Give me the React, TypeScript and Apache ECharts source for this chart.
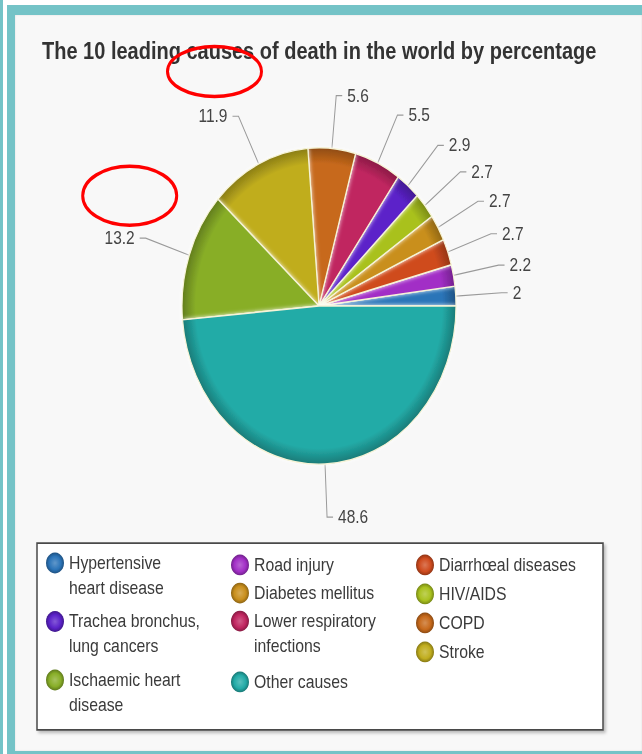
import React, { useEffect, useRef } from "react";
import * as echarts from "echarts";

// ---------- data ----------
const titleText = "The 10 leading causes of death in the world by percentage";
const categories = [
  "Hypertensive heart disease",
  "Road injury",
  "Diarrhœal diseases",
  "Diabetes mellitus",
  "HIV/AIDS",
  "Trachea bronchus, lung cancers",
  "Lower respiratory infections",
  "COPD",
  "Stroke",
  "Ischaemic heart disease",
  "Other causes",
];
const values = [2, 2.2, 2.7, 2.7, 2.7, 2.9, 5.5, 5.6, 11.9, 13.2, 48.6];
const colors = [
  "#2b74b8",
  "#a22fc6",
  "#cf4b1e",
  "#c98f1c",
  "#a9c11f",
  "#5b22c9",
  "#c02660",
  "#c7691b",
  "#c0ad1e",
  "#88ae28",
  "#23aba7",
];
// legend label wrapping (first line / second line)
const legendWrap: Record<string, string[]> = {
  "Hypertensive heart disease": ["Hypertensive", "heart disease"],
  "Trachea bronchus, lung cancers": ["Trachea bronchus,", "lung cancers"],
  "Ischaemic heart disease": ["Ischaemic heart", "disease"],
  "Lower respiratory infections": ["Lower respiratory", "infections"],
};
// legend columns (masonry order of the original legend)
const legendCol1 = ["Hypertensive heart disease", "Trachea bronchus, lung cancers", "Ischaemic heart disease"];
const legendCol2 = ["Road injury", "Diabetes mellitus", "Lower respiratory infections"];
const legendCol2b = ["Other causes"];
const legendCol3 = ["Diarrhœal diseases", "HIV/AIDS", "COPD", "Stroke"];

// ---------- styling helpers ----------
const W = 642;
const H_REAL = 754;
const H = 653; // native height, page is stretched vertically like the reference
const TEAL = "#74c3c7";
const FONT = "'Liberation Sans', Arial, Helvetica, sans-serif";
const PIE_C: [number, number] = [319, 265];
const PIE_R = 137;

function shade(hex: string, f: number): string {
  const n = parseInt(hex.slice(1), 16);
  let r = (n >> 16) & 255, g = (n >> 8) & 255, b = n & 255;
  if (f < 1) {
    r = Math.round(r * f); g = Math.round(g * f); b = Math.round(b * f);
  } else {
    const t = f - 1;
    r = Math.round(r + (255 - r) * t); g = Math.round(g + (255 - g) * t); b = Math.round(b + (255 - b) * t);
  }
  return "#" + ((1 << 24) | (r << 16) | (g << 8) | b).toString(16).slice(1);
}

function colorOf(name: string) {
  return colors[categories.indexOf(name)];
}

function legendItem(name: string) {
  const base = colorOf(name);
  return {
    name,
    itemStyle: {
      color: {
        type: "radial", x: 0.5, y: 0.5, r: 0.5,
        colorStops: [
          { offset: 0, color: shade(base, 1.25) },
          { offset: 0.65, color: base },
          { offset: 1, color: shade(base, 0.7) },
        ],
      },
      borderWidth: 0,
    },
  };
}

function makeLegend(names: string[], left: number, top: number, gap: number) {
  return {
    orient: "vertical",
    left,
    top,
    padding: 0,
    itemGap: gap,
    itemWidth: 18,
    itemHeight: 18,
    icon: "circle",
    selectedMode: false,
    data: names.map(legendItem),
    formatter: (n: string) => (legendWrap[n] ? legendWrap[n][0] : n),
    textStyle: { color: "#3a3a3a", fontSize: 15.8, fontFamily: FONT, lineHeight: 20 },
  };
}

const LINE2 = 21.6;
const col1Top = 477.6, col1Gap = 30.65;
const col2Top = 479.3, col2Gap = 4.3;
const col2bTop = 580.6;
const col3Top = 479.3, col3Gap = 5.1;

function secondLines() {
  const out: any[] = [];
  const add = (x: number, y: number, text: string) =>
    out.push({
      type: "text",
      x,
      y,
      style: { text, fill: "#3a3a3a", fontSize: 15.8, fontFamily: FONT, verticalAlign: "middle", align: "left" },
    });
  legendCol1.forEach((n, i) => {
    if (legendWrap[n]) add(69, col1Top + 10 + i * (20 + col1Gap) + LINE2, legendWrap[n][1]);
  });
  legendCol2.forEach((n, i) => {
    if (legendWrap[n]) add(254, col2Top + 10 + i * (20 + col2Gap) + LINE2, legendWrap[n][1]);
  });
  return out;
}

export default function App() {
  const ref = useRef<HTMLDivElement>(null);
  useEffect(() => {
    if (!ref.current) return;
    const chart = echarts.init(ref.current, null, { renderer: "svg", width: W, height: H });
    const option: any = {
      animation: false,
      backgroundColor: "transparent",
      title: {
        text: titleText,
        left: 42,
        top: 34.5,
        padding: 0,
        textStyle: { fontSize: 20, fontWeight: "bold", color: "#333", fontFamily: FONT },
      },
      legend: [
        makeLegend(legendCol1, 46, col1Top, col1Gap),
        makeLegend(legendCol2, 231, col2Top, col2Gap),
        makeLegend(legendCol2b, 231, col2bTop, 0),
        makeLegend(legendCol3, 416, col3Top, col3Gap),
      ],
      graphic: [
        {
          type: "rect",
          z: -1,
          shape: { x: 37, y: 470.3, width: 566, height: 161.9 },
          style: {
            fill: "#fff",
            stroke: "#4a4a4a",
            lineWidth: 1.5,
            shadowBlur: 3,
            shadowOffsetX: 2,
            shadowOffsetY: 2,
            shadowColor: "rgba(0,0,0,0.25)",
          },
        },
        ...secondLines(),
        {
          type: "ellipse",
          z: 100,
          shape: { cx: 214.5, cy: 61.9, rx: 47, ry: 21.7 },
          style: { fill: "none", stroke: "#ff0000", lineWidth: 3 },
        },
        {
          type: "ellipse",
          z: 100,
          shape: { cx: 129.7, cy: 169.5, rx: 47, ry: 25.5 },
          style: { fill: "none", stroke: "#ff0000", lineWidth: 3 },
        },
      ],
      series: [
        {
          type: "pie",
          center: PIE_C,
          radius: PIE_R,
          startAngle: 0,
          clockwise: false,
          avoidLabelOverlap: false,
          emphasis: { disabled: true },
          itemStyle: {
            borderColor: "#f6f3d6",
            borderWidth: 1.2,
            shadowBlur: 4,
            shadowColor: "rgba(255,255,255,0.9)",
          },
          label: {
            show: true,
            formatter: "{c}",
            color: "#444",
            fontSize: 15.5,
            fontFamily: FONT,
          },
          labelLine: {
            show: true,
            length: 46,
            length2: 6,
            lineStyle: { color: "#9a9a9a", width: 1 },
          },
          data: categories.map((name, i) => ({
            name,
            value: values[i],
            itemStyle: {
              color: {
                type: "radial",
                x: PIE_C[0],
                y: PIE_C[1],
                r: PIE_R,
                global: true,
                colorStops: [
                  { offset: 0, color: colors[i] },
                  { offset: 0.9, color: colors[i] },
                  { offset: 1, color: shade(colors[i], 0.72) },
                ],
              },
            },
          })),
        },
      ],
    };
    chart.setOption(option);
    return () => chart.dispose();
  }, []);

  return (
    <div style={{ position: "fixed", left: 0, top: 0, width: W, height: H_REAL, background: "#fff", overflow: "hidden" }}>
      <div style={{ position: "absolute", left: 0, top: 0, width: 2.5, height: H_REAL, background: TEAL }} />
      <div style={{ position: "absolute", left: 7, top: 5, width: W - 7, height: H_REAL - 5, background: TEAL }} />
      <div
        style={{
          position: "absolute",
          left: 15,
          top: 15,
          width: W - 15,
          height: 736,
          background: "#f8f8f8",
          boxShadow: "inset 0 0 2px rgba(0,0,0,0.12)",
        }}
      />
      <div
        ref={ref}
        style={{
          position: "absolute",
          left: 0,
          top: 0,
          width: W,
          height: H,
          transform: `scaleY(${H_REAL / H})`,
          transformOrigin: "0 0",
        }}
      />
    </div>
  );
}
